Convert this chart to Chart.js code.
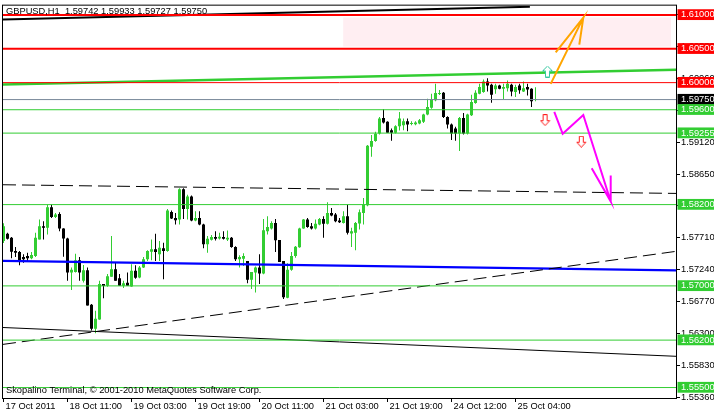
<!DOCTYPE html>
<html><head><meta charset="utf-8">
<script src="https://cdn.jsdelivr.net/npm/chart.js@4.4.0/dist/chart.umd.min.js"></script>
<style>html,body{margin:0;padding:0;background:#fff;overflow:hidden}canvas{display:block}</style>
</head><body>
<canvas id="c" width="714" height="416"></canvas>
<script>
// ---------- DATA (GBPUSD H1, one entry per bar, bar index 0..133) ----------
const opens=[1.57662,1.57768,1.5771,1.57515,1.575,1.57427,1.57442,1.57408,1.57442,1.57686,
1.57882,1.57857,1.5816,1.58018,1.58062,1.57848,1.57701,1.57197,1.57207,1.57378,
1.57075,1.57232,1.56723,1.56367,1.56504,1.57027,1.57002,1.57134,1.57247,1.57114,
1.57002,1.57046,1.56992,1.57222,1.57124,1.5727,1.57393,1.57505,1.5754,1.57467,
1.57555,1.57515,1.58091,1.58003,1.5798,1.58428,1.58135,1.58321,1.57965,1.58003,
1.57907,1.57614,1.57681,1.5772,1.57701,1.5772,1.57686,1.5771,1.57574,1.57393,
1.57402,1.57368,1.5709,1.57197,1.5727,1.57182,1.57808,1.57848,1.5793,1.57676,
1.57368,1.56826,1.57237,1.57442,1.5757,1.57848,1.5798,1.57882,1.57848,1.57907,
1.57988,1.57916,1.58076,1.58053,1.57965,1.5793,1.58028,1.57774,1.57783,1.57921,
1.58076,1.58189,1.59054,1.59138,1.59249,1.59479,1.59421,1.59299,1.5926,1.59358,
1.59372,1.59431,1.59391,1.59387,1.59396,1.59421,1.59528,1.59631,1.59739,1.59831,
1.5985,1.59494,1.59381,1.59323,1.59249,1.59479,1.59249,1.59519,1.59699,1.59836,
1.59861,1.60017,1.59968,1.59901,1.59959,1.59909,1.59919,1.59968,1.59861,1.59959,
1.59871,1.59934,1.59909,1.59742];
const highs=[1.57926,1.57783,1.5772,1.57574,1.57515,1.57467,1.5749,1.575,1.57783,1.5798,
1.57955,1.582,1.582,1.58076,1.58087,1.57852,1.5771,1.5727,1.57475,1.57427,
1.57309,1.5727,1.56734,1.56635,1.57075,1.57027,1.57174,1.57735,1.57343,1.57174,
1.57075,1.57197,1.5732,1.57305,1.57295,1.57427,1.57525,1.57686,1.57768,1.57662,
1.57637,1.58135,1.58112,1.58076,1.58443,1.58443,1.58346,1.58336,1.58101,1.58101,
1.57916,1.57735,1.5775,1.57808,1.57783,1.57808,1.57818,1.5772,1.57584,1.57452,
1.57481,1.57368,1.57207,1.57285,1.57467,1.57988,1.58028,1.57955,1.57988,1.57676,
1.57368,1.57335,1.575,1.57589,1.57857,1.57988,1.58003,1.5793,1.5798,1.58003,
1.58028,1.58233,1.5815,1.58076,1.58003,1.58101,1.582,1.57857,1.57945,1.58126,
1.58296,1.59079,1.59226,1.59274,1.59494,1.59607,1.59431,1.59323,1.59372,1.59567,
1.59469,1.59469,1.59431,1.59431,1.59465,1.59542,1.59762,1.59836,1.59982,1.5989,
1.59861,1.59504,1.59396,1.59348,1.59494,1.59553,1.59542,1.59821,1.59886,1.59982,
1.60047,1.60066,1.59982,1.59982,1.59968,1.59982,1.60032,1.59982,1.59968,1.59982,
1.60017,1.59982,1.59919,1.59933];
const lows=[1.57633,1.57686,1.57408,1.57427,1.57305,1.57343,1.57368,1.57393,1.57427,1.57686,
1.57686,1.5776,1.58003,1.58003,1.57808,1.57431,1.57075,1.56939,1.57197,1.57075,
1.5705,1.56709,1.56342,1.56302,1.56499,1.56816,1.56987,1.57134,1.57075,1.57002,
1.56968,1.57002,1.56987,1.57104,1.57114,1.57266,1.57368,1.57378,1.57368,1.57368,
1.571,1.57505,1.57988,1.57907,1.57907,1.57988,1.5798,1.57955,1.57955,1.57896,
1.57555,1.5749,1.57671,1.57671,1.57686,1.57686,1.57662,1.57564,1.57368,1.5727,
1.57295,1.57041,1.56954,1.56904,1.57027,1.57173,1.5776,1.57833,1.575,1.57354,
1.56807,1.56816,1.57222,1.57417,1.57564,1.57842,1.57857,1.57833,1.57833,1.57896,
1.5771,1.57907,1.58028,1.5794,1.5793,1.57921,1.5776,1.57574,1.57525,1.57833,
1.57907,1.58175,1.58908,1.59128,1.59235,1.59396,1.5926,1.59142,1.59249,1.59293,
1.59299,1.59284,1.59372,1.59372,1.59387,1.59406,1.59519,1.59616,1.59724,1.59817,
1.59479,1.59323,1.59152,1.59142,1.58991,1.59235,1.59235,1.59509,1.59689,1.59827,
1.5985,1.59871,1.59704,1.59836,1.59901,1.59754,1.59871,1.59798,1.59787,1.59836,
1.59861,1.59812,1.59641,1.59727];
const closes=[1.57882,1.57695,1.57505,1.5749,1.57378,1.57393,1.57408,1.57456,1.5771,1.57882,
1.57857,1.5816,1.58018,1.58053,1.57848,1.57701,1.57197,1.57237,1.57378,1.57197,
1.57232,1.56709,1.56367,1.56514,1.57027,1.56998,1.57144,1.57247,1.57075,1.57002,
1.57041,1.57002,1.57222,1.5712,1.5727,1.57393,1.57515,1.5754,1.575,1.57564,
1.57515,1.58112,1.57994,1.57969,1.58428,1.58135,1.58321,1.57965,1.58003,1.57907,
1.57614,1.57695,1.5772,1.57695,1.57725,1.57695,1.5771,1.57574,1.57393,1.57427,
1.57442,1.5709,1.57207,1.5727,1.57182,1.57823,1.57871,1.5793,1.57672,1.57354,
1.56831,1.57237,1.57442,1.57579,1.57848,1.5798,1.57871,1.57848,1.57916,1.57988,
1.57916,1.58076,1.58038,1.57955,1.5794,1.58028,1.57783,1.57808,1.5793,1.58087,
1.582,1.59069,1.59138,1.59245,1.59469,1.5941,1.5926,1.5926,1.59358,1.59469,
1.59431,1.59381,1.59406,1.5941,1.59446,1.59528,1.59641,1.59754,1.59846,1.59846,
1.59494,1.59381,1.59249,1.59249,1.59479,1.59249,1.59528,1.59714,1.5985,1.59934,
1.60017,1.59959,1.59821,1.59959,1.59909,1.59934,1.59982,1.59871,1.59934,1.59886,
1.59919,1.599,1.59724,1.5975];

const timeTickBars=[0,16,32,48,64,80,96,112,128];
const timeTickLabels=['17 Oct 2011','18 Oct 11:00','19 Oct 03:00','19 Oct 19:00','20 Oct 11:00','21 Oct 03:00','21 Oct 19:00','24 Oct 12:00','25 Oct 04:00'];
const priceTicks=[1.5536,1.5583,1.5630,1.5677,1.5724,1.5771,1.5818,1.5865,1.5912,1.5959,1.6006,1.6053,1.6100];

const redLevels=[1.61,1.605];
const redThinLevels=[1.6];
const bidLevel=[1.5975];
const greenLevels=[1.596,1.59255,1.582,1.57,1.562,1.555];

// trend lines: [barIndex, price] endpoints
const greenTrend=[[-0.125,1.59971],[168.125,1.6019]];
const topBlackTrend=[[-0.125,1.60931],[131.6,1.61121]];
const dashedUpper=[[-0.125,1.58493],[168.125,1.58365]];
const dashedRising=[[-0.125,1.56137],[168.125,1.5751]];
const blackFalling=[[-0.125,1.56386],[168.125,1.55961]];
const blueLine=[[-0.125,1.57368],[168.125,1.57229]];
const pinkZone={from:84.9,to:166.9,top:1.6096,bottom:1.60535};
const orangeArrow=[[138.05,1.60447],[144.95,1.6096],[136.8,1.59982],null,[144.95,1.6096],[143.95,1.6056]];
const magentaArrow=[[137.7,1.59567],[139.8,1.59245],[144.95,1.59523],[151.8,1.58248],[147.05,1.58736],null,[151.8,1.58248],[151.8,1.58629]];
const downMarks=[[135.4,1.59446],[144.45,1.59128]];
const upMarks=[[136,1.60164]];

const titleText='GBPUSD,H1  1.59742 1.59933 1.59727 1.59750';
const footerText='Skopalino Terminal, \u00a9 2001-2010 MetaQuotes Software Corp.';

// ---------- STYLES ----------
const GREEN='#32cd32', RED='#ff0000', BLACK='#000000', GRAY='#778899';
const FONT='"Liberation Sans", Arial, sans-serif';
const FS=9.3;

const toPts=a=>a.map(p=>p?{x:p[0],y:p[1]}:{x:NaN,y:null});
const hline=(v)=>[{x:-0.125,y:v},{x:168.125,y:v}];
function lineDS(data,color,width,extra){return Object.assign({type:'line',data,borderColor:color,borderWidth:width,pointRadius:0,fill:false,tension:0,spanGaps:false,order:10},extra||{});}

function arrowImg(dir,stroke){
  const c=document.createElement('canvas');c.width=11;c.height=12;
  const g=c.getContext('2d');g.strokeStyle=stroke;g.fillStyle='#ffffff';g.lineWidth=1;g.beginPath();
  if(dir==='down'){g.moveTo(3.5,0.5);g.lineTo(7.5,0.5);g.lineTo(7.5,6.5);g.lineTo(10,6.5);g.lineTo(5.5,11.5);g.lineTo(1,6.5);g.lineTo(3.5,6.5);g.closePath();}
  else{g.moveTo(5.5,0.5);g.lineTo(10.5,5.5);g.lineTo(7.5,5.5);g.lineTo(7.5,11.5);g.lineTo(3.5,11.5);g.lineTo(3.5,5.5);g.lineTo(0.5,5.5);g.closePath();}
  g.fill();g.stroke();return c;
}

const candleColors=closes.map((c,i)=>c>=opens[i]?GREEN:BLACK);
const bodies=opens.map((o,i)=>({x:i,y:[o,closes[i]]}));
const wicks=lows.map((l,i)=>({x:i,y:[l,highs[i]]}));

const levelValues=[...redLevels,...redThinLevels,...bidLevel,...greenLevels];
const levelBoxColors=[...redLevels.map(()=>RED),...redThinLevels.map(()=>RED),...bidLevel.map(()=>BLACK),...greenLevels.map(()=>GREEN)];
const allYTicks=[...priceTicks,...levelValues];
const nReg=priceTicks.length;

const datasets=[];
downMarks.forEach(p=>datasets.push({type:'line',data:[{x:p[0],y:p[1]}],showLine:false,pointStyle:arrowImg('down','#ff1a1a'),order:1}));
upMarks.forEach(p=>datasets.push({type:'line',data:[{x:p[0],y:p[1]}],showLine:false,pointStyle:arrowImg('up','#33c8a0'),order:1}));
datasets.push(lineDS(toPts(orangeArrow),'#ffa500',2,{order:2}));
datasets.push(lineDS(toPts(magentaArrow),'#ff00ff',2,{order:2}));
redLevels.forEach(v=>datasets.push(lineDS(hline(v),RED,2)));
redThinLevels.forEach(v=>datasets.push(lineDS(hline(v),RED,1)));
bidLevel.forEach(v=>datasets.push(lineDS(hline(v),GRAY,1)));
greenLevels.forEach(v=>datasets.push(lineDS(hline(v),GREEN,1)));
datasets.push(lineDS(toPts(greenTrend),GREEN,2.5));
datasets.push(lineDS(toPts(topBlackTrend),BLACK,2));
datasets.push(lineDS(toPts(dashedUpper),BLACK,1,{borderDash:[13,6]}));
datasets.push(lineDS(toPts(dashedRising),BLACK,1,{borderDash:[13,6]}));
datasets.push(lineDS(toPts(blackFalling),BLACK,1));
datasets.push(lineDS(toPts(blueLine),'#0000ff',2.3));
datasets.push({type:'bar',data:bodies,backgroundColor:candleColors,barThickness:3,grouped:false,minBarLength:1,borderWidth:0,inflateAmount:0,order:19});
datasets.push({type:'bar',data:wicks,backgroundColor:candleColors,barThickness:1,grouped:false,minBarLength:1,borderWidth:0,inflateAmount:0,order:20});
datasets.push({type:'line',data:[{x:pinkZone.from,y:pinkZone.top},{x:pinkZone.to,y:pinkZone.top}],borderWidth:0,borderColor:'rgba(0,0,0,0)',pointRadius:0,backgroundColor:'#ffeef2',fill:{value:pinkZone.bottom},order:30});

const overlay={
  id:'overlay',
  afterDatasetsDraw(chart){
    const {ctx,chartArea:a}=chart;ctx.save();
    ctx.font=FS+'px '+FONT;ctx.fillStyle='#000';ctx.textBaseline='alphabetic';
    ctx.fillText(titleText,a.left+3,a.top+8.5);
    ctx.fillText(footerText,a.left+3,a.bottom-5);
    ctx.restore();
  },
  afterDraw(chart){
    const {ctx,chartArea:a}=chart;ctx.save();ctx.strokeStyle='#000';ctx.lineWidth=1;
    ctx.strokeRect(a.left-0.5,a.top-0.5,a.right-a.left+1,a.bottom-a.top+1);ctx.restore();
  }
};

new Chart(document.getElementById('c'),{
  type:'line',
  data:{datasets},
  options:{
    responsive:false,animation:false,devicePixelRatio:1,
    layout:{padding:{left:3,top:3,right:0,bottom:0},autoPadding:false},
    plugins:{legend:{display:false},tooltip:{enabled:false},title:{display:false}},
    scales:{
      x:{type:'linear',position:'bottom',min:-0.125,max:168.125,offset:false,
        afterBuildTicks:s=>{s.ticks=timeTickBars.map(v=>({value:v}));},
        afterFit:s=>{s.height=18;},
        grid:{display:true,drawOnChartArea:false,drawTicks:true,tickLength:4,tickColor:'#000',offset:false},
        border:{display:true,color:'#000',width:1},
        ticks:{autoSkip:false,maxRotation:0,minRotation:0,align:'start',padding:0,labelOffset:2,color:'#000',
          font:{family:FONT,size:FS,lineHeight:1},
          callback:(v)=>timeTickLabels[timeTickBars.indexOf(v)]}
      },
      y:{type:'linear',position:'right',min:1.553456,max:1.611363,
        afterBuildTicks:s=>{s.ticks=allYTicks.map(v=>({value:v}));},
        afterFit:s=>{s.width=38;},
        grid:{display:true,drawOnChartArea:false,drawTicks:true,tickLength:4,
          tickColor:(c)=>c.index<nReg?'#000':'rgba(0,0,0,0)'},
        border:{display:true,color:'#000',width:1},
        ticks:{autoSkip:false,padding:1,font:{family:FONT,size:FS,lineHeight:1},
          color:(c)=>c.index<nReg?'#000':'#fff',
          showLabelBackdrop:true,
          backdropColor:(c)=>c.index<nReg?'rgba(0,0,0,0)':levelBoxColors[c.index-nReg],
          backdropPadding:{left:3.5,right:6,top:1,bottom:0.5},
          callback:(v)=>Number(v).toFixed(5)}
      }
    }
  },
  plugins:[overlay]
});
</script>
</body></html>
